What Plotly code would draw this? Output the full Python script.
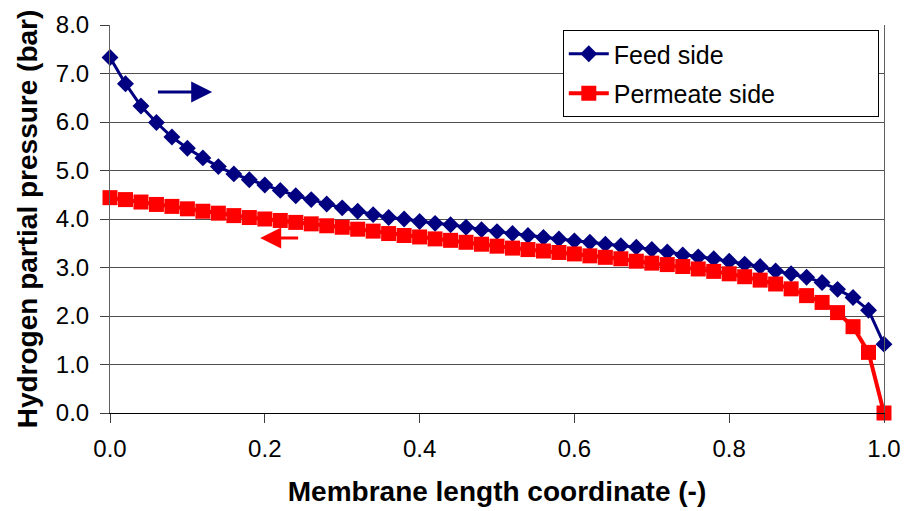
import plotly.graph_objects as go

x_coord = [round(i * 0.02, 2) for i in range(51)]

feed_side = [7.33, 6.79, 6.33, 5.99, 5.69, 5.46, 5.26, 5.08, 4.93, 4.81,
             4.70, 4.59, 4.48, 4.40, 4.31, 4.23, 4.16, 4.09, 4.03, 4.00,
             3.95, 3.91, 3.88, 3.83, 3.78, 3.74, 3.70, 3.66, 3.62, 3.59,
             3.55, 3.52, 3.48, 3.45, 3.42, 3.37, 3.32, 3.26, 3.22, 3.18,
             3.13, 3.07, 3.02, 2.93, 2.87, 2.80, 2.69, 2.55, 2.38, 2.12,
             1.42]

permeate_side = [4.44, 4.40, 4.35, 4.30, 4.26, 4.21, 4.16, 4.12, 4.07, 4.03,
                 4.00, 3.97, 3.93, 3.90, 3.86, 3.83, 3.79, 3.75, 3.70, 3.66,
                 3.63, 3.59, 3.56, 3.52, 3.48, 3.44, 3.40, 3.37, 3.34, 3.31,
                 3.28, 3.24, 3.21, 3.18, 3.13, 3.09, 3.06, 3.02, 2.97, 2.92,
                 2.87, 2.81, 2.74, 2.66, 2.56, 2.42, 2.28, 2.07, 1.78, 1.25,
                 0.00]

series_names = ["Feed side", "Permeate side"]

x_ticks = [0.0, 0.2, 0.4, 0.6, 0.8, 1.0]
y_ticks = [0, 1, 2, 3, 4, 5, 6, 7, 8]

FONT = "Liberation Sans, Arial, sans-serif"
PAD = "\u00a0" * 14  # widen the legend box like the original

fig = go.Figure()
fig.add_trace(go.Scatter(
    x=x_coord, y=feed_side, name=series_names[0] + PAD, mode="lines+markers",
    line=dict(color="#000080", width=3),
    marker=dict(symbol="diamond", size=13, color="#000080"),
    legendgroup="a", cliponaxis=False))
fig.add_trace(go.Scatter(
    x=x_coord, y=permeate_side, name=series_names[1] + PAD, mode="lines+markers",
    line=dict(color="#FF0000", width=4),
    marker=dict(symbol="square", size=15, color="#FF0000"),
    legendgroup="b", cliponaxis=False))

# direction arrows
fig.add_annotation(x=0.132, y=6.62, ax=0.06, ay=6.62, xref="x", yref="y",
                   axref="x", ayref="y", showarrow=True, arrowhead=2,
                   arrowsize=1.4, arrowwidth=3, arrowcolor="#000080", text="")
fig.add_annotation(x=0.194, y=3.61, ax=0.245, ay=3.61, xref="x", yref="y",
                   axref="x", ayref="y", showarrow=True, arrowhead=2,
                   arrowsize=1.4, arrowwidth=3, arrowcolor="#FF0000", text="")

fig.update_layout(
    width=908, height=511,
    margin=dict(l=102, r=32, t=17, b=106, autoexpand=False),
    paper_bgcolor="white", plot_bgcolor="white",
    font=dict(family=FONT, color="black", size=24),
    showlegend=True,
    legend=dict(x=0.585, y=0.987, xanchor="left", yanchor="top",
                bgcolor="white", bordercolor="black", borderwidth=1,
                font=dict(size=25, family=FONT), tracegroupgap=4,
                itemwidth=40),
)
fig.update_xaxes(
    range=[0, 1], tickvals=x_ticks, tickformat=".1f",
    showgrid=False, showline=True, linecolor="black", linewidth=1,
    ticks="outside", ticklen=9, tickcolor="#404040",
    tickfont=dict(size=24, family=FONT), ticklabelstandoff=5,
    title=dict(text="<b>Membrane length coordinate (-)</b>",
               font=dict(size=28, family=FONT), standoff=20),
    automargin=False, zeroline=False)
fig.update_yaxes(
    range=[0, 8], tickvals=y_ticks, tickformat=".1f",
    showgrid=True, gridcolor="#505050", gridwidth=1,
    showline=True, linecolor="#606060", linewidth=1, mirror=True,
    ticks="outside", ticklen=9, tickcolor="#404040",
    tickfont=dict(size=24, family=FONT), ticklabelstandoff=6,
    title=dict(text="<b>Hydrogen partial pressure (bar)</b>",
               font=dict(size=28, family=FONT), standoff=10),
    automargin=False, zeroline=False)

fig.write_html("out.html")
